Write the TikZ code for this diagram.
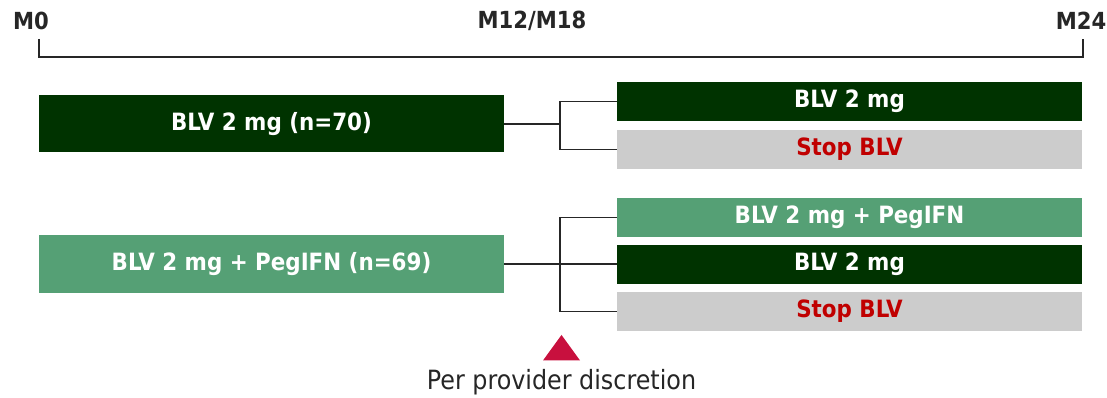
\documentclass[tikz,border=0pt]{standalone}
\usepackage{fontspec}
\setmainfont{DejaVu Sans Condensed}
\usetikzlibrary{shapes.geometric}
\definecolor{armdark}{HTML}{003300}
\definecolor{armlight}{HTML}{55A075}
\definecolor{armstop}{HTML}{CCCCCC}
\definecolor{stopred}{HTML}{C00000}
\definecolor{marker}{HTML}{C8103E}
\definecolor{labelgrey}{HTML}{262626}
\tikzset{
  armbox/.style={rectangle, inner sep=0pt, minimum width=465pt,
    font=\fontsize{23.8}{28}\selectfont\bfseries},
  darkarm/.style={armbox, fill=armdark, text=white},
  lightarm/.style={armbox, fill=armlight, text=white},
  stoparm/.style={armbox, fill=armstop, text=stopred},
  tick/.style={font=\fontsize{23.5}{28}\selectfont\bfseries, text=labelgrey, inner sep=0pt},
  branch/.style={line width=1.3pt, black!85},
  timeline/.style={line width=1.5pt, black!85}
}
\begin{document}
\begin{tikzpicture}[x=1pt, y=-1pt]
\useasboundingbox (0,0) rectangle (1107,398);

% timeline bracket
\coordinate (t0) at (39,39);
\coordinate (t0b) at (39,57);
\coordinate (t1b) at (1083,57);
\coordinate (t1) at (1083,39);
\draw[timeline] (t0) -- (t0b) -- (t1b) -- (t1);
\node[tick] (m0) at (31,21) {M0};
\node[tick] (m12) at (532,21) {M12/M18};
\node[tick] (m24) at (1081,21) {M24};

% first arm
\node[darkarm, minimum height=57pt] (l1) at (271.5,124) {BLV 2 mg (n=70)};
\node[darkarm, minimum height=39pt] (a1) at (849.5,101.5) {BLV 2 mg};
\node[stoparm, minimum height=39pt] (b1) at (849.5,149.5) {Stop BLV};
\coordinate (j1) at (560,124);
\draw[branch] (l1.east) -- (j1);
\draw[branch] (j1) |- (a1.west);
\draw[branch] (j1) |- (b1.west);

% second arm
\node[lightarm, minimum height=58pt] (l2) at (271.5,264) {BLV 2 mg + PegIFN (n=69)};
\node[lightarm, minimum height=39pt] (c2) at (849.5,217.5) {BLV 2 mg + PegIFN};
\node[darkarm, minimum height=39pt] (d2) at (849.5,264) {BLV 2 mg};
\node[stoparm, minimum height=39pt] (e2) at (849.5,311.5) {Stop BLV};
\coordinate (j2) at (560,264);
\draw[branch] (l2.east) -- (j2);
\draw[branch] (j2) |- (c2.west);
\draw[branch] (j2) -- (d2.west);
\draw[branch] (j2) |- (e2.west);

% decision marker
\node[isosceles triangle, isosceles triangle apex angle=72, shape border rotate=90,
  fill=marker, inner sep=0pt, minimum height=25pt, minimum width=37pt] (tri) at (561.5,351) {};
\node[font=\fontsize{26.5}{30}\selectfont, text=labelgrey, inner sep=0pt] (note) at (561.5,382) {Per provider discretion};
\end{tikzpicture}
\end{document}
